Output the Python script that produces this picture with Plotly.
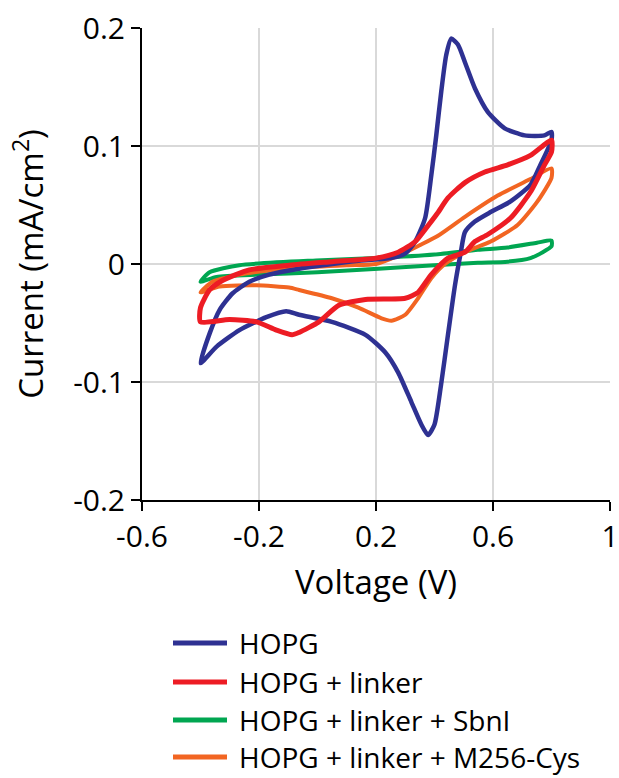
import plotly.graph_objects as go

# ---- data ----
series_names = ["HOPG", "HOPG + linker", "HOPG + linker + SbnI", "HOPG + linker + M256-Cys"]
series_colors = ["#2E3192", "#ED1C24", "#00A651", "#F26522"]

hopg_v = [-0.4, -0.369, -0.335, -0.291, -0.233, -0.165, -0.063, 0.05, 0.15, 0.25, 0.30, 0.334, 0.368,
          0.389, 0.406, 0.423, 0.44, 0.457, 0.48, 0.504, 0.538, 0.582, 0.64, 0.708, 0.776, 0.8,
          0.8, 0.762, 0.728, 0.66, 0.592, 0.538, 0.504, 0.49, 0.47, 0.446, 0.422, 0.40, 0.378, 0.355,
          0.321, 0.276, 0.232, 0.164, 0.049, -0.063, -0.107, -0.175, -0.267, -0.345, -0.4]
hopg_i = [-0.084, -0.059, -0.039, -0.025, -0.015, -0.009, -0.004, 0.0, 0.003, 0.005, 0.009, 0.019, 0.039,
          0.075, 0.109, 0.146, 0.177, 0.191, 0.186, 0.171, 0.149, 0.129, 0.115, 0.109, 0.109, 0.112,
          0.105, 0.084, 0.067, 0.053, 0.044, 0.036, 0.027, 0.010, -0.018, -0.060, -0.103, -0.136, -0.145, -0.136,
          -0.117, -0.092, -0.075, -0.060, -0.049, -0.043, -0.040, -0.045, -0.056, -0.070, -0.084]

linker_v = [-0.4, -0.369, -0.325, -0.233, -0.097, 0.05, 0.2, 0.276, 0.334, 0.37, 0.41, 0.446, 0.504,
            0.572, 0.65, 0.728, 0.8,
            0.8, 0.776, 0.728, 0.66, 0.582, 0.538, 0.504, 0.446, 0.389, 0.344, 0.30, 0.164, 0.073,
            0.005, -0.063, -0.087, -0.141, -0.209, -0.301, -0.4, -0.4]
linker_i = [-0.037, -0.022, -0.014, -0.005, -0.001, 0.002, 0.005, 0.010, 0.019, 0.030, 0.043, 0.056, 0.069,
            0.078, 0.084, 0.092, 0.105,
            0.095, 0.084, 0.061, 0.039, 0.025, 0.019, 0.010, 0.005, -0.009, -0.024, -0.029, -0.030, -0.035,
            -0.049, -0.058, -0.060, -0.056, -0.049, -0.047, -0.049, -0.037]

sbni_v = [-0.4, -0.369, -0.267, -0.005, 0.2, 0.4, 0.548, 0.65, 0.75, 0.8,
          0.8, 0.77, 0.728, 0.65, 0.548, 0.4, 0.208, 0.0, -0.2, -0.345, -0.4]
sbni_i = [-0.015, -0.007, -0.001, 0.003, 0.005, 0.008, 0.012, 0.014, 0.018, 0.020,
          0.015, 0.010, 0.005, 0.002, 0.001, -0.001, -0.004, -0.007, -0.009, -0.011, -0.015]

m256_v = [-0.4, -0.359, -0.267, -0.155, -0.063, 0.1, 0.2, 0.276, 0.35, 0.412, 0.504, 0.616, 0.728, 0.8,
          0.8, 0.752, 0.684, 0.592, 0.504, 0.436, 0.389, 0.344, 0.30, 0.253, 0.219, 0.14, 0.049,
          -0.063, -0.097, -0.209, -0.335, -0.4]
m256_i = [-0.024, -0.015, -0.009, -0.005, -0.003, -0.001, 0.0, 0.007, 0.016, 0.024, 0.040, 0.058, 0.072, 0.081,
          0.073, 0.053, 0.033, 0.019, 0.010, 0.0, -0.012, -0.029, -0.043, -0.048, -0.046, -0.037, -0.029,
          -0.022, -0.020, -0.018, -0.019, -0.024]

x_ticks = [-0.6, -0.2, 0.2, 0.6, 1.0]
x_ticktext = ["-0.6", "-0.2", "0.2", "0.6", "1"]
y_ticks = [-0.2, -0.1, 0.0, 0.1, 0.2]
y_ticktext = ["-0.2", "-0.1", "0", "0.1", "0.2"]

series_v = [hopg_v, linker_v, sbni_v, m256_v]
series_i = [hopg_i, linker_i, sbni_i, m256_i]
series_width = [4.5, 5, 4, 4]

FONT = "Open Sans"

fig = go.Figure()
# draw order similar to reference (red on top)
order = [2, 3, 0, 1]
for k in order:
    fig.add_trace(go.Scatter(
        x=series_v[k], y=series_i[k], mode="lines", name=series_names[k],
        line=dict(color=series_colors[k], width=series_width[k], shape="spline", smoothing=0.6),
        showlegend=False,
    ))

# custom legend (long line samples like the reference)
L, R, T, B = 142, 9, 28, 278
W, H = 619, 778
pw, ph = W - L - R, H - T - B
def px_x(px):
    return (px - L) / pw
def px_y(py):
    return (H - B - py) / ph

row_y = [643, 682, 720, 757]
for k in range(4):
    fig.add_shape(type="line", xref="paper", yref="paper",
                  x0=px_x(173), x1=px_x(227), y0=px_y(row_y[k]), y1=px_y(row_y[k]),
                  line=dict(color=series_colors[k], width=5))
    fig.add_annotation(xref="paper", yref="paper", x=px_x(237), y=px_y(row_y[k]),
                       text=series_names[k], showarrow=False, xanchor="left", yanchor="middle",
                       font=dict(family=FONT, size=28, color="black"))

fig.update_layout(
    width=W, height=H,
    margin=dict(l=L, r=R, t=T, b=B),
    paper_bgcolor="white", plot_bgcolor="white",
    font=dict(family=FONT, color="black"),
    showlegend=False,
)
fig.update_xaxes(
    range=[-0.6, 1.0], tickvals=x_ticks, ticktext=x_ticktext,
    showgrid=True, gridcolor="#d9d9d9", gridwidth=2, zeroline=False,
    showline=True, linecolor="black", linewidth=2,
    ticks="outside", ticklen=9, tickwidth=2, tickcolor="black",
    tickfont=dict(family=FONT, size=30, color="black"),
    ticklabeloverflow="allow",
    title=dict(text="Voltage (V)", font=dict(family=FONT, size=33, color="black"), standoff=16),
    automargin=False,
)
fig.update_yaxes(
    range=[-0.2, 0.2], tickvals=y_ticks, ticktext=y_ticktext,
    showgrid=True, gridcolor="#d9d9d9", gridwidth=2, zeroline=False,
    showline=True, linecolor="black", linewidth=2,
    ticks="outside", ticklen=9, tickwidth=2, tickcolor="black",
    tickfont=dict(family=FONT, size=30, color="black"),
    title=dict(text="Current (mA/cm<sup>2</sup>)", font=dict(family=FONT, size=33, color="black"), standoff=20),
    automargin=False,
)

fig.write_html("out.html")
